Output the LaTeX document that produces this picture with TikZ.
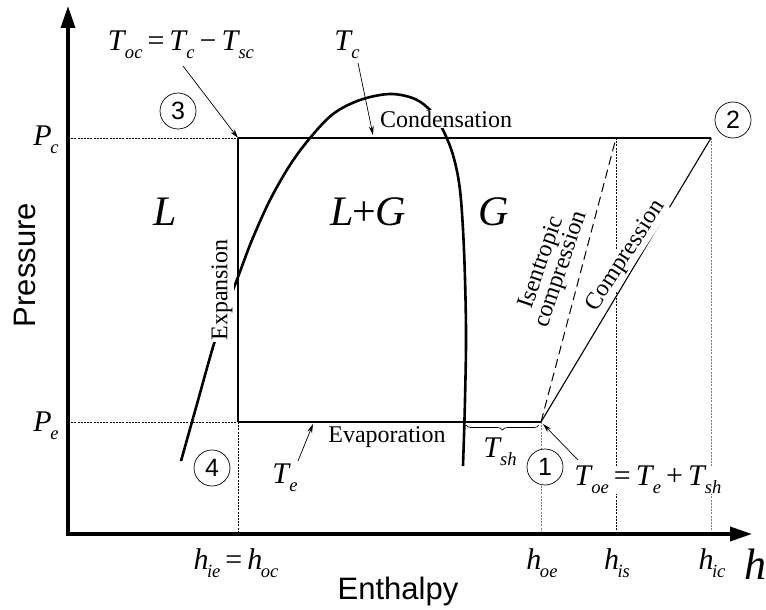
\documentclass[tikz,border=0pt]{standalone}
\usepackage{fontspec}
\setmainfont{Liberation Serif}
\setsansfont{Liberation Sans}
\usepackage{graphicx}
\usetikzlibrary{arrows.meta,decorations.pathreplacing}
\newcommand\Sb[1]{\raisebox{-0.55ex}{\scalebox{0.62}{\itshape #1}}}
\newcommand\V[2]{\textit{#1}\kern-0.05em\Sb{#2}}
\begin{document}
\begin{tikzpicture}[x=1pt,y=-1pt,
  axis/.style={line width=3.5pt,-{Triangle[length=22pt,width=14pt]}},
  cyc/.style={line width=1.1pt},
  dome/.style={line width=2.6pt},
  guide/.style={line width=0.6pt,dash pattern=on 2pt off 1.2pt},
  gguide/.style={guide,draw=gray},
  pt/.style={circle,draw,line width=0.7pt,minimum size=36pt,inner sep=0pt,fill=white,font=\sffamily\fontsize{25}{25}\selectfont},
  lbl/.style={font=\fontsize{24}{24}\selectfont,inner sep=1pt},
  wlbl/.style={lbl,fill=white},
  mth/.style={font=\fontsize{30}{30}\selectfont,inner sep=1pt},
  big/.style={font=\fontsize{42}{42}\selectfont\itshape,inner sep=1pt},
  pointer/.style={line width=0.7pt,-{Stealth[length=9pt,width=5pt]}},
  axlbl/.style={font=\sffamily\fontsize{31}{31}\selectfont,inner sep=1pt}]
\useasboundingbox (0,0) rectangle (766,610);
% key points
\coordinate (p1) at (541,422);
\coordinate (p2) at (711,138);
\coordinate (p3) at (238,138);
\coordinate (p4) at (238,422);
\coordinate (ps) at (616,138);
\coordinate (yc) at (68,138);
\coordinate (ye) at (68,422);
\coordinate (x4) at (238,534);
\coordinate (x1) at (541,534);
\coordinate (xs) at (616,534);
\coordinate (x2) at (711,534);
\coordinate (ytop) at (68,6);
\coordinate (xend) at (752,534);
\coordinate (ybot) at (68,536);
\coordinate (xbeg) at (66,534);
\coordinate (br1) at (466,425);
\coordinate (br2) at (539,425);
% guides
\draw[guide] (yc) -- (p3);
\draw[guide] (ye) -- (p4);
\draw[guide] (p4) -- (x4);
\draw[gguide] (p1) -- (x1);
\draw[guide] (ps) -- (xs);
\draw[gguide] (p2) -- (x2);
% dome
\draw[dome] plot[smooth,tension=0.55] coordinates {(181,461) (197,404) (213,347) (225,311) (238,277) (252,240) (270,200) (290,165) (310,138) (333,114) (360,100) (390,94) (415,99) (432,112) (443,130) (453,155) (460,190) (464,250) (466,330) (465,400) (463,466)};
% cycle
\draw[cyc] (p3) -- (p2);
\draw[cyc] (p3) -- (p4);
\draw[cyc] (p4) -- (p1);
\draw[cyc] (p1) -- (p2);
\draw[line width=1pt,dash pattern=on 9pt off 5pt] (p1) -- (ps);
% axes
\draw[axis] (ybot) -- (ytop);
\draw[axis] (xbeg) -- (xend);
% brace
\draw[line width=0.7pt,decorate,decoration={brace,mirror,amplitude=5pt}] (br1) -- (br2);
% labels
\node[wlbl,rotate=90] (exp) at (222,290) {Expansion};
\node[wlbl] (cond) at (446,119) {Condensation};
\node[lbl] (evap) at (387,437) {Evaporation};
\node[lbl,fill=white,rotate=57] (comp) at (626,256) {Compression};
\node[lbl,rotate=71,align=center,inner sep=0pt] (isen) at (552,266) {Isentropic\\[-3pt]compression};
\node[big] (L) at (165,212) {L};
\node[big] (LG) at (368,212) {L\kern-0.02em\upshape+\kern-0.02em\itshape G};
\node[big] (G) at (494,212) {G};
% points
\node[pt] (n3) at (178,111) {3};
\node[pt] (n2) at (733,120) {2};
\node[pt] (n4) at (212,468) {4};
\node[pt] (n1) at (545,467) {1};
% math labels
\node[mth] (toc) at (181,45) {\V{T}{oc}\,=\,\V{T}{c}\,−\,\V{T}{sc}};
\node[mth] (tc) at (347,45) {\V{T}{c}};
\node[mth] (pc) at (46,140) {\V{P}{c}};
\node[mth] (pe) at (46,426) {\V{P}{e}};
\node[mth] (te) at (285,478) {\V{T}{e}};
\node[mth] (tsh) at (500,452) {\V{T}{sh}};
\node[mth,fill=white,inner sep=0pt] (toe) at (648,480) {\V{T}{oe}\,=\,\V{T}{e}\,+\,\V{T}{sh}};
\node[mth] (hie) at (236,563) {\V{h}{ie}\,=\,\V{h}{oc}};
\node[mth] (hoe) at (542,563) {\V{h}{oe}};
\node[mth] (his) at (617,563) {\V{h}{is}};
\node[mth] (hic) at (712,563) {\V{h}{ic}};
\node[font=\fontsize{44}{44}\selectfont\itshape,inner sep=0pt] (h) at (755,564) {h};
\node[axlbl] (enth) at (398,591) {Enthalpy};
\node[axlbl,rotate=90] (pres) at (25,265) {Pressure};
% pointers
\coordinate (tocs) at (183,66);
\coordinate (tcs) at (358,63);
\coordinate (tce) at (373,135);
\coordinate (tes) at (298,461);
\coordinate (tee) at (313,424);
\coordinate (toes) at (578,460);
\coordinate (toee) at (543,424);
\draw[pointer] (tocs) -- (p3);
\draw[pointer] (tcs) -- (tce);
\draw[pointer] (tes) -- (tee);
\draw[pointer] (toes) -- (toee);
\end{tikzpicture}
\end{document}
